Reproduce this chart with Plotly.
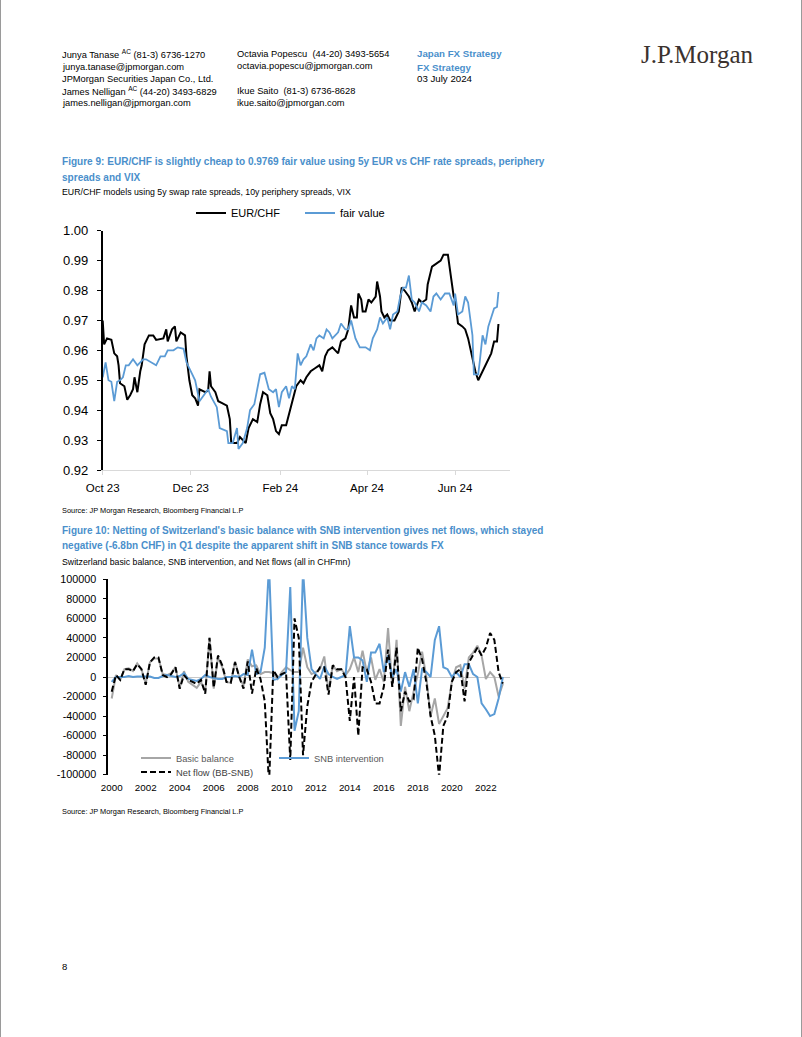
import plotly.graph_objects as go

# ---------------- DATA ----------------
# Figure 9: EUR/CHF spot and model fair value
eurchf_dates = [
    "2023-10-01", "2023-10-02", "2023-10-04", "2023-10-07", "2023-10-09", "2023-10-11", "2023-10-12",
    "2023-10-13", "2023-10-16", "2023-10-18", "2023-10-20", "2023-10-22", "2023-10-23", "2023-10-25",
    "2023-10-27", "2023-10-28", "2023-10-30", "2023-11-02", "2023-11-05", "2023-11-07", "2023-11-12",
    "2023-11-14", "2023-11-15", "2023-11-18", "2023-11-20", "2023-11-21", "2023-11-24", "2023-11-27",
    "2023-11-28", "2023-11-30", "2023-12-02", "2023-12-04", "2023-12-06", "2023-12-07", "2023-12-11",
    "2023-12-13", "2023-12-14", "2023-12-15", "2023-12-18", "2023-12-20", "2023-12-22", "2023-12-26",
    "2023-12-28", "2023-12-29", "2024-01-02", "2024-01-04", "2024-01-08", "2024-01-10", "2024-01-13",
    "2024-01-16", "2024-01-18", "2024-01-20", "2024-01-23", "2024-01-25", "2024-01-27", "2024-01-29",
    "2024-01-31", "2024-02-02", "2024-02-05", "2024-02-08", "2024-02-10", "2024-02-12", "2024-02-15",
    "2024-02-17", "2024-02-19", "2024-02-22", "2024-02-25", "2024-02-28", "2024-03-01", "2024-03-03",
    "2024-03-05", "2024-03-08", "2024-03-10", "2024-03-12", "2024-03-14", "2024-03-17", "2024-03-19",
    "2024-03-21", "2024-03-23", "2024-03-25", "2024-03-26", "2024-03-28", "2024-03-29", "2024-03-31",
    "2024-04-02", "2024-04-04", "2024-04-07", "2024-04-08", "2024-04-10", "2024-04-11", "2024-04-13",
    "2024-04-15", "2024-04-17", "2024-04-20", "2024-04-23", "2024-04-25", "2024-04-27", "2024-04-30",
    "2024-05-02", "2024-05-04", "2024-05-07", "2024-05-09", "2024-05-12", "2024-05-13", "2024-05-16",
    "2024-05-19", "2024-05-22", "2024-05-24", "2024-05-27", "2024-05-29", "2024-05-31", "2024-06-01",
    "2024-06-03", "2024-06-06", "2024-06-08", "2024-06-10", "2024-06-13", "2024-06-15", "2024-06-17",
    "2024-06-19", "2024-06-22", "2024-06-24", "2024-06-26", "2024-06-28", "2024-06-30", "2024-07-01",
]
eurchf_vals = [
    0.970, 0.962, 0.964, 0.9635, 0.959, 0.958, 0.955,
    0.949, 0.948, 0.9435, 0.945, 0.947, 0.951, 0.946,
    0.953, 0.955, 0.962, 0.965, 0.965, 0.9635, 0.964,
    0.967, 0.963, 0.967, 0.968, 0.963, 0.966, 0.965,
    0.958, 0.950, 0.945, 0.944, 0.9415, 0.947, 0.946,
    0.9465, 0.953, 0.948, 0.946, 0.943, 0.9425, 0.9415,
    0.937, 0.929, 0.929, 0.931, 0.929, 0.934, 0.937,
    0.936, 0.942, 0.946, 0.945, 0.939, 0.937, 0.933,
    0.932, 0.935, 0.935, 0.941, 0.944, 0.948, 0.950,
    0.949, 0.951, 0.953, 0.954, 0.955, 0.953, 0.958,
    0.960, 0.961, 0.960, 0.959, 0.963, 0.964, 0.967,
    0.975, 0.971, 0.971, 0.979, 0.977, 0.973, 0.973,
    0.977, 0.976, 0.978, 0.983, 0.978, 0.973, 0.971,
    0.972, 0.970, 0.970, 0.973, 0.981, 0.980, 0.978,
    0.976, 0.973, 0.977, 0.976, 0.977, 0.982, 0.988,
    0.989, 0.990, 0.992, 0.992, 0.985, 0.978, 0.977,
    0.969, 0.968, 0.967, 0.964, 0.957, 0.953, 0.950,
    0.952, 0.955, 0.957, 0.959, 0.963, 0.963, 0.9688,
]
fv_dates = [
    "2023-10-01", "2023-10-03", "2023-10-05", "2023-10-07", "2023-10-09", "2023-10-11", "2023-10-13",
    "2023-10-15", "2023-10-17", "2023-10-19", "2023-10-22", "2023-10-25", "2023-10-27", "2023-10-29",
    "2023-10-31", "2023-11-04", "2023-11-07", "2023-11-10", "2023-11-13", "2023-11-15", "2023-11-19",
    "2023-11-22", "2023-11-26", "2023-11-28", "2023-11-30", "2023-12-04", "2023-12-07", "2023-12-10",
    "2023-12-13", "2023-12-15", "2023-12-19", "2023-12-21", "2023-12-26", "2023-12-27", "2023-12-30",
    "2024-01-02", "2024-01-03", "2024-01-06", "2024-01-09", "2024-01-11", "2024-01-14", "2024-01-18",
    "2024-01-21", "2024-01-24", "2024-01-27", "2024-01-29", "2024-01-31", "2024-02-02", "2024-02-05",
    "2024-02-07", "2024-02-09", "2024-02-11", "2024-02-13", "2024-02-15", "2024-02-17", "2024-02-19",
    "2024-02-22", "2024-02-24", "2024-02-26", "2024-02-28", "2024-03-02", "2024-03-04", "2024-03-06",
    "2024-03-08", "2024-03-10", "2024-03-12", "2024-03-14", "2024-03-17", "2024-03-19", "2024-03-21",
    "2024-03-24", "2024-03-27", "2024-03-31", "2024-04-03", "2024-04-05", "2024-04-08", "2024-04-10",
    "2024-04-12", "2024-04-15", "2024-04-17", "2024-04-19", "2024-04-22", "2024-04-24", "2024-04-26",
    "2024-04-28", "2024-04-30", "2024-05-02", "2024-05-04", "2024-05-07", "2024-05-09", "2024-05-12",
    "2024-05-15", "2024-05-17", "2024-05-19", "2024-05-22", "2024-05-25", "2024-05-28", "2024-05-31",
    "2024-06-01", "2024-06-03", "2024-06-06", "2024-06-08", "2024-06-10", "2024-06-13", "2024-06-14",
    "2024-06-17", "2024-06-18", "2024-06-20", "2024-06-22", "2024-06-24", "2024-06-26", "2024-06-28",
    "2024-06-30", "2024-07-01",
]
fv_vals = [
    0.951, 0.956, 0.950, 0.9495, 0.943, 0.9495, 0.950,
    0.951, 0.955, 0.955, 0.957, 0.955, 0.956, 0.957,
    0.957, 0.956, 0.955, 0.958, 0.958, 0.960, 0.960,
    0.961, 0.9605, 0.956, 0.954, 0.950, 0.943, 0.945,
    0.947, 0.9445, 0.941, 0.934, 0.933, 0.929, 0.929,
    0.934, 0.927, 0.929, 0.934, 0.940, 0.942, 0.952,
    0.9525, 0.947, 0.946, 0.947, 0.941, 0.946, 0.948,
    0.944, 0.948, 0.947, 0.959, 0.955, 0.957, 0.958,
    0.962, 0.960, 0.964, 0.965, 0.964, 0.967, 0.966,
    0.964, 0.965, 0.966, 0.969, 0.967, 0.967, 0.970,
    0.964, 0.961, 0.961, 0.960, 0.964, 0.967, 0.971,
    0.969, 0.971, 0.967, 0.972, 0.973, 0.978, 0.981,
    0.981, 0.985, 0.977, 0.976, 0.973, 0.976, 0.975,
    0.973, 0.978, 0.979, 0.977, 0.979, 0.979, 0.975,
    0.979, 0.972, 0.973, 0.978, 0.976, 0.965, 0.952,
    0.952, 0.956, 0.965, 0.962, 0.968, 0.971, 0.974,
    0.9745, 0.9795,
]
fig9_ticks = ["2023-10-01", "2023-12-01", "2024-02-01", "2024-04-01", "2024-06-01"]
fig9_ticktext = ["Oct 23", "Dec 23", "Feb 24", "Apr 24", "Jun 24"]

# Figure 10: quarterly flows, CHFmn, 2000Q1 .. 2023Q1
years = list(range(2000, 2024))
quarters = [(y, q) for y in years for q in (1, 2, 3, 4)][:93]
basic_balance = [
    -22000, 2000, -3000, 8000,        # 2000
    9000, 6000, 14000, 8000,          # 2001
    -7000, 15000, 19000, 19000,       # 2002
    3000, 2000, 4000, 10000,          # 2003
    -11000, 6000, -5000, -8000,       # 2004
    -11000, -5000, -15000, 40000,     # 2005
    -12000, 20000, 10000, -5000,      # 2006
    -6000, 16000, 0, -9000,           # 2007
    18000, 11000, 12000, 3000,        # 2008
    5000, 5000, 4000, -2000,          # 2009
    5000, 10000, 7000, 5000,          # 2010
    5000, 30000, 10000, 3000,         # 2011
    5000, 8000, 21000, -15000,        # 2012
    12000, 6000, 8000, 2000,          # 2013
    8000, 20000, 5000, 27000,         # 2014
    5000, 20000, -3000, 8000,         # 2015
    -5000, 50000, -10000, 38000,      # 2016
    -50000, -10000, -35000, -15000,   # 2017
    3000, 26000, 0, -40000,           # 2018
    -22000, -48000, -40000, -32000,   # 2019
    -5000, 10000, 12000, -12000,      # 2020
    20000, 25000, 32000, 22000,       # 2021
    -2000, 5000, 0, -20000,           # 2022
    -7000,                            # 2023
]
snb_intervention = [
    -5000, 0, 0, 0,
    1000, 0, 500, 500,
    500, 500, -1000, -1000,
    1000, 2000, 1000, 0,
    1000, 4000, -2000, -3000,
    -4000, -2000, 2000, 0,
    -1000, -2000, -2000, 0,
    0, 1000, 0, 3000,
    2000, 28000, 3000, 5000,
    30000, 115000, -3000, -2000,
    2000, 5000, 92000, -55000,
    -35000, 110000, 40000, 8000,
    3000, -2000, 11000, 3000,
    0, -2000, 0, 2000,
    52000, 20000, 20000, 17000,
    -5000, 25000, 25000, 34000,
    5000, 22000, 0, 8000,
    -15000, 5000, -10000, 8000,
    -27000, 8000, 5000, 0,
    38000, 52000, 10000, 8000,
    0, 5000, 0, 13000,
    13000, 3000, 0, -27000,
    -33000, -40000, -38000, -22000,
    0,
]
net_flow = [
    -15000, 2000, -3000, 8000,
    8000, 6000, 13000, 8000,
    -8000, 15000, 20000, 20000,
    2000, 0, 3000, 10000,
    -12000, 2000, -3000, -5000,
    -7000, -3000, -17000, 40000,
    -11000, 22000, 12000, -5000,
    -6000, 15000, 0, -12000,
    16000, -17000, 9000, -2000,
    -25000, -110000, 7000, 0,
    3000, 5000, -85000, 60000,
    40000, -80000, -30000, -5000,
    2000, 10000, 10000, -18000,
    12000, 8000, 8000, 0,
    -45000, 0, -60000, 10000,
    8000, -5000, -27000, -27000,
    -10000, 28000, -10000, 30000,
    -35000, -15000, -25000, -23000,
    30000, 18000, -5000, -40000,
    -60000, -102000, -50000, -40000,
    -5000, 5000, 8000, -25000,
    15000, 22000, 30000, 22000,
    30000, 45000, 38000, 5000,
    -6800,
]
fig10_years = list(range(2000, 2023, 2))
fig10_yticks = list(range(-100000, 100001, 20000))

# ---------------- LAYOUT HELPERS ----------------
W, H = 802, 1037


def fx(x):
    return x / W


def fy(y):
    return 1 - y / H


FONT = "Liberation Sans, Arial, Helvetica, sans-serif"
TITLE_BLUE = "#4a8fcb"
LINE_BLUE = "#5b9bd5"

qx = [y + (q - 1) / 4 for (y, q) in quarters]

fig = go.Figure()
fig.add_trace(go.Scatter(x=eurchf_dates, y=eurchf_vals, name="EUR/CHF", mode="lines",
                         line=dict(color="black", width=2), xaxis="x", yaxis="y", legend="legend"))
fig.add_trace(go.Scatter(x=fv_dates, y=fv_vals, name="fair value", mode="lines",
                         line=dict(color=LINE_BLUE, width=1.8), xaxis="x", yaxis="y", legend="legend2"))
fig.add_trace(go.Scatter(x=qx, y=basic_balance, name="Basic balance", mode="lines",
                         line=dict(color="#a6a6a6", width=2), xaxis="x2", yaxis="y2", legend="legend3"))
fig.add_trace(go.Scatter(x=qx, y=snb_intervention, name="SNB intervention", mode="lines",
                         line=dict(color=LINE_BLUE, width=2), xaxis="x2", yaxis="y2", legend="legend5"))
fig.add_trace(go.Scatter(x=qx, y=net_flow, name="Net flow (BB-SNB)", mode="lines",
                         line=dict(color="black", width=2, dash="6px,3px"), xaxis="x2", yaxis="y2",
                         legend="legend4"))


def one_legend(x, y, color="black", size=11):
    return dict(orientation="h", x=fx(x), xanchor="left", y=fy(y), yanchor="middle",
                font=dict(family=FONT, size=size, color=color), bgcolor="rgba(0,0,0,0)",
                borderwidth=0, itemclick=False, itemdoubleclick=False)


fig.update_layout(
    width=W, height=H, margin=dict(l=0, r=0, t=0, b=0, pad=0, autoexpand=False),
    paper_bgcolor="white", plot_bgcolor="rgba(0,0,0,0)",
    font=dict(family=FONT, color="black"),
    showlegend=True,
    xaxis=dict(domain=[fx(102.7), fx(510)], anchor="y", type="date",
               range=["2023-10-01", "2024-07-09"], tickvals=fig9_ticks, ticktext=fig9_ticktext,
               showgrid=False, zeroline=False, showline=True, linecolor="#d9d9d9", linewidth=1,
               ticks="outside", ticklen=4, tickcolor="#d9d9d9",
               tickfont=dict(family=FONT, size=11.5, color="black"), ticklabelstandoff=3),
    yaxis=dict(domain=[fy(470), fy(230.7)], anchor="x", range=[0.92, 1.0],
               tickvals=[0.92 + i * 0.01 for i in range(9)],
               ticktext=["%.2f" % (0.92 + i * 0.01) for i in range(9)],
               showgrid=False, zeroline=False, showline=True, linecolor="black", linewidth=1.5,
               ticks="outside", ticklen=4, tickcolor="black", tickwidth=1,
               tickfont=dict(family=FONT, size=13, color="black"), ticklabelstandoff=6),
    xaxis2=dict(domain=[fx(108.3), fx(510)], anchor="y2", range=[1999.8, 2023.42],
                tickvals=fig10_years, ticktext=[str(y) for y in fig10_years],
                showgrid=False, zeroline=False, showline=False, ticks="",
                tickfont=dict(family=FONT, size=9.8, color="black"), ticklabelstandoff=5),
    yaxis2=dict(domain=[fy(774.7), fy(579.3)], anchor="x2", range=[-100000, 100000],
                tickvals=fig10_yticks, ticktext=[str(v) for v in fig10_yticks],
                showgrid=False, zeroline=True, zerolinecolor="#c8c8c8", zerolinewidth=1,
                showline=True, linecolor="black", linewidth=1.5,
                ticks="outside", ticklen=4, tickcolor="black",
                tickfont=dict(family=FONT, size=10.8, color="black"), ticklabelstandoff=4),
    legend=one_legend(191, 213),
    legend2=one_legend(300, 213),
    legend3=one_legend(136, 758, "#595959", 9.3),
    legend4=one_legend(136, 772, "#404040", 9.3),
    legend5=one_legend(274, 758, "#595959", 9.3),
)

ann = []


def txt(x, y, s, size=9.3, color="black", family=FONT, anchor="left"):
    ann.append(dict(x=fx(x), y=fy(y), xref="paper", yref="paper", text=s, showarrow=False,
                    xanchor=anchor, yanchor="middle", align="left",
                    font=dict(family=family, size=size, color=color)))


# header
txt(60, 54, "Junya Tanase <sup>AC</sup> (81-3) 6736-1270")
txt(60, 67, "junya.tanase@jpmorgan.com")
txt(60, 79, "JPMorgan Securities Japan Co., Ltd.")
txt(60, 91, "James Nelligan <sup>AC</sup> (44-20) 3493-6829")
txt(60, 103, "james.nelligan@jpmorgan.com")
txt(235, 54, "Octavia Popescu  (44-20) 3493-5654")
txt(235, 66, "octavia.popescu@jpmorgan.com")
txt(235, 91, "Ikue Saito  (81-3) 6736-8628")
txt(235, 103, "ikue.saito@jpmorgan.com")
txt(415, 54, "<b>Japan FX Strategy</b>", size=9.7, color=TITLE_BLUE)
txt(415, 67, "<b>FX Strategy</b>", size=9.7, color=TITLE_BLUE)
txt(415, 79, "03 July 2024", size=9.7)
txt(697, 55, "J.P.Morgan", size=25, color="#3b322e", family="Liberation Serif, Times New Roman, serif",
    anchor="center")

# figure 9
txt(60, 162, "<b>Figure 9: EUR/CHF is slightly cheap to 0.9769 fair value using 5y EUR vs CHF rate spreads, periphery</b>",
    size=10.05, color=TITLE_BLUE)
txt(60, 177, "<b>spreads and VIX</b>", size=10.05, color=TITLE_BLUE)
txt(60, 192, "EUR/CHF models using 5y swap rate spreads, 10y periphery spreads, VIX", size=8.75)
txt(60, 510, "Source: JP Morgan Research, Bloomberg Financial L.P", size=7.4)

# figure 10
txt(60, 530, "<b>Figure 10: Netting of Switzerland's basic balance with SNB intervention gives net flows, which stayed</b>",
    size=10.0, color=TITLE_BLUE)
txt(60, 545, "<b>negative (-6.8bn CHF) in Q1 despite the apparent shift in SNB stance towards FX</b>",
    size=10.0, color=TITLE_BLUE)
txt(60, 562, "Switzerland basic balance, SNB intervention, and Net flows (all in CHFmn)", size=8.75)
txt(60, 811, "Source: JP Morgan Research, Bloomberg Financial L.P", size=7.4)

txt(60, 966, "8", size=9.5)

fig.update_layout(annotations=ann)

# page edges
fig.add_shape(type="line", xref="paper", yref="paper", x0=fx(0.5), x1=fx(0.5), y0=0, y1=1,
              line=dict(color="#9a9a9a", width=1))
fig.add_shape(type="line", xref="paper", yref="paper", x0=fx(801.5), x1=fx(801.5), y0=0, y1=1,
              line=dict(color="#9a9a9a", width=1))

fig.write_html(
    "out.html",
    config={"responsive": False, "displayModeBar": False},
    post_script=("document.documentElement.style.margin='0';document.body.style.margin='0';"
                 "document.body.style.padding='0';document.documentElement.style.overflow='hidden';"
                 "document.body.style.overflow='hidden';"),
)
